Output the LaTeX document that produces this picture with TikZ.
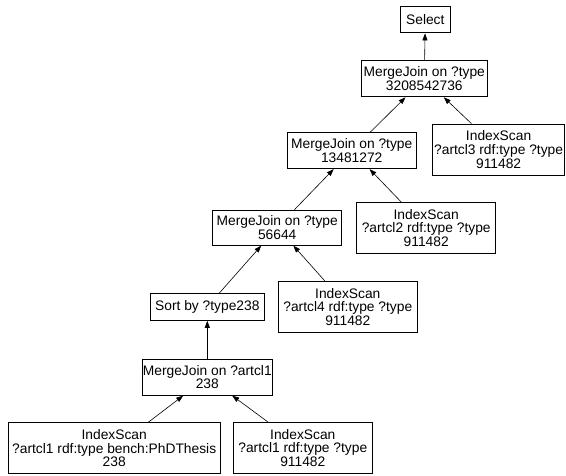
\documentclass[tikz,border=0pt]{standalone}
\usepackage{fontspec}
\setmainfont{Liberation Sans}
\usetikzlibrary{arrows.meta}
\begin{document}
\begin{tikzpicture}[x=1pt,y=-1pt,
  opbox/.style={draw,line width=0.8pt,rectangle,inner sep=0pt,align=center,
    font=\fontsize{13.8}{13.6}\selectfont},
  flow/.style={-{Triangle[length=7pt,width=5pt]},line width=0.6pt,shorten >=0.3pt}]
\useasboundingbox (0,0) rectangle (566,475);

% plan operators
\node[opbox,minimum width=50.7pt,minimum height=26.7pt] (sel) at (425.3,19.3) {Select};
\node[opbox,minimum width=126.7pt,minimum height=36pt] (mj1) at (424.3,78.7) {MergeJoin on ?type\\3208542736};
\node[opbox,minimum width=131.8pt,minimum height=51pt] (is3) at (498.6,149.5) {IndexScan\\?artcl3 rdf:type ?type\\911482};
\node[opbox,minimum width=128.7pt,minimum height=36pt] (mj2) at (351.7,150.5) {MergeJoin on ?type\\13481272};
\node[opbox,minimum width=139pt,minimum height=51pt] (is2) at (426.2,228) {IndexScan\\?artcl2 rdf:type ?type\\911482};
\node[opbox,minimum width=129pt,minimum height=35pt] (mj3) at (277.2,227.5) {MergeJoin on ?type\\56644};
\node[opbox,minimum width=139pt,minimum height=51pt] (is4) at (347.8,306.7) {IndexScan\\?artcl4 rdf:type ?type\\911482};
\node[opbox,minimum width=113.3pt,minimum height=26.7pt] (sort) at (207.3,306.7) {Sort by ?type238};
\node[opbox,minimum width=130.7pt,minimum height=35.7pt] (mj4) at (207.3,377.2) {MergeJoin on ?artcl1\\238};
\node[opbox,minimum width=211.7pt,minimum height=51pt] (isphd) at (114.2,448.3) {IndexScan\\?artcl1 rdf:type bench:PhDThesis\\238};
\node[opbox,minimum width=139pt,minimum height=51pt] (is1) at (302.8,447.8) {IndexScan\\?artcl1 rdf:type ?type\\911482};

% data flow from inputs up to their consumers
\draw[flow] (mj1) -- (sel);
\draw[flow] (mj2) -- (mj1);
\draw[flow] (is3) -- (mj1);
\draw[flow] (mj3) -- (mj2);
\draw[flow] (is2) -- (mj2);
\draw[flow] (sort) -- (mj3);
\draw[flow] (is4) -- (mj3);
\draw[flow] (mj4) -- (sort);
\draw[flow] (isphd) -- (mj4);
\draw[flow] (is1) -- (mj4);
\end{tikzpicture}
\end{document}
